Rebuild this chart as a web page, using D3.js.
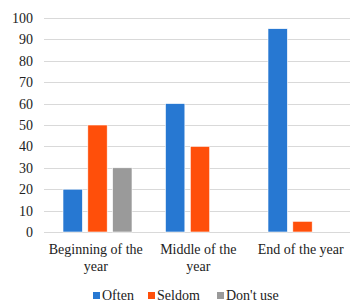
<!DOCTYPE html>
<html><head><meta charset="utf-8">
<script src="https://cdn.jsdelivr.net/npm/d3@7"></script>
<style>body{margin:0;background:#fff}svg{display:block}</style>
</head><body>
<svg id="chart" width="350" height="302"></svg>
<script>
const categories = ["Beginning of the year", "Middle of the year", "End of the year"];
const seriesNames = ["Often", "Seldom", "Don't use"];
const often = [20, 60, 95];
const seldom = [50, 40, 5];
const dontUse = [30, 0, 0];
const yTicks = [0, 10, 20, 30, 40, 50, 60, 70, 80, 90, 100];
const colors = ["#2778D2", "#FF4F0A", "#9A9A9A"];

const FONT = "Liberation Serif";
const fs = 14;
const fontStyle = t => t.attr("font-family", FONT)
  .style("font-family", "'Liberation Serif', serif", "important")
  .style("font-size", fs + "px", "important");

const svg = d3.select("#chart");

const x0 = d3.scaleBand().domain(categories).range([44, 351.5]).paddingInner(0).paddingOuter(0);
const x1 = d3.scaleBand().domain(seriesNames).range([19, 88]).paddingInner(0.22).paddingOuter(0);
const y = d3.scaleLinear().domain([0, 100]).range([232, 18]);

svg.append("g").selectAll("line").data(yTicks).join("line")
  .attr("x1", 44).attr("x2", 350)
  .attr("y1", d => Math.round(y(d)) + 0.5).attr("y2", d => Math.round(y(d)) + 0.5)
  .attr("stroke", "#d9d9d9").attr("stroke-width", 1);

const yAxis = d3.axisLeft(y).tickValues(yTicks).tickSize(0).tickPadding(0);
const ya = svg.append("g").attr("transform", "translate(33,0)").call(yAxis);
ya.attr("font-family", FONT).attr("font-size", fs);
ya.select(".domain").remove();
ya.selectAll("text").attr("fill", "#222").call(fontStyle);

const data = categories.map((c, i) => ({cat: c, vals: [often[i], seldom[i], dontUse[i]]}));
const g = svg.append("g");
data.forEach(d => {
  g.append("g").attr("transform", `translate(${x0(d.cat)},0)`)
    .selectAll("rect").data(d.vals.map((v, j) => ({v, s: seriesNames[j], c: colors[j]})).filter(e => e.v > 0))
    .join("rect")
    .attr("x", e => x1(e.s)).attr("width", x1.bandwidth())
    .attr("y", e => y(e.v)).attr("height", e => y(0) - y(e.v))
    .attr("fill", e => e.c).attr("stroke", "#fff").attr("stroke-width", 0.6);
});

const xLabelLines = [["Beginning of the", "year"], ["Middle of the", "year"], ["End of the year"]];
const xl = svg.append("g");
categories.forEach((c, i) => {
  const cx = x0(c) + x0.bandwidth() / 2 + 0.5;
  const t = xl.append("text").attr("x", cx).attr("y", 254)
    .attr("text-anchor", "middle").attr("fill", "#222").call(fontStyle);
  xLabelLines[i].forEach((ln, k) => t.append("tspan").attr("x", cx).attr("dy", k === 0 ? 0 : 17).text(ln));
});

const legendX = [93, 148, 217];
const lg = svg.append("g");
seriesNames.forEach((s, i) => {
  lg.append("rect").attr("x", legendX[i]).attr("y", 292).attr("width", 7).attr("height", 7).attr("fill", colors[i]);
  lg.append("text").attr("x", legendX[i] + 9).attr("y", 299.5).attr("fill", "#222").call(fontStyle).text(s);
});
</script>
</body></html>
